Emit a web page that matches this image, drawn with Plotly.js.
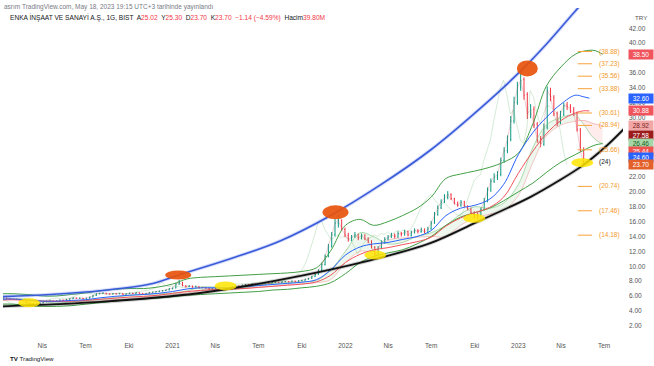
<!DOCTYPE html>
<html><head><meta charset="utf-8">
<script src="https://cdn.plot.ly/plotly-3.0.1.min.js"></script>
<style>html,body{margin:0;padding:0;background:#fff}#chart{width:654px;height:366px}</style>
</head><body><div id="chart"></div>
<script>
// ---- weekly OHLC (Fridays from 2020-01-03) ----
const weekStart = '2020-01-03';
const open = [
// 2020
5.60,5.66,5.71,5.67,5.59, 5.53,5.57,5.49,5.33, 5.08,4.96,4.76,4.91, 5.06,5.21,5.34,5.39, 5.31,5.39,5.44,5.43,5.56, 5.63,5.74,5.69,5.71, 5.64,5.71,5.86,6.06,6.29, 6.34,6.39,6.31,6.26, 6.31,6.29,6.34,6.23, 6.31,6.37,6.33,6.44,6.35, 6.26,6.36,6.47,6.53, 6.59,6.66,6.73,6.81,
// 2021
6.96,7.08,7.62,7.82,7.38, 7.27,7.33,7.19,7.29, 7.12,7.14,7.04,6.96, 7.01,7.09,6.91,6.79,6.87, 7.06,7.21,7.34,7.31, 7.46,7.54,7.49,7.63, 7.57,7.66,7.59,7.73,7.67, 7.81,7.84,7.79,7.91, 7.94,7.89,8.01,7.91, 8.06,8.11,8.26,8.36,8.62, 8.92,9.42,10.25,11.35, 12.65,14.25,15.82,16.15,14.95,
// 2022
14.15,13.65,13.95,14.25, 13.75,14.15,13.65,13.35, 12.55,11.65,12.45,13.25, 13.65,13.95,14.25,13.95,14.45, 14.25,14.65,14.15,14.55, 14.75,14.65,14.95,14.55, 15.05,15.85,16.95,17.85,18.65, 19.25,19.65,19.05,18.45, 18.25,18.65,18.05,17.65,17.15, 16.85,16.85,17.65,18.85, 20.25,21.45,21.95,22.35, 24.25,25.55,27.05,29.55,32.05,
// 2023
34.10,35.10,33.10,30.40, 31.10,29.10,26.90,26.40, 28.70,33.50,32.70,30.60,29.30, 30.40,31.70,31.40,31.10, 30.50,28.30,25.50];
const high = [
5.70,5.78,5.76,5.70,5.62, 5.64,5.60,5.52,5.36, 5.12,5.00,4.98,5.12, 5.26,5.40,5.48,5.42, 5.44,5.50,5.50,5.60,5.68, 5.80,5.78,5.78,5.74, 5.76,5.92,6.12,6.36,6.42, 6.48,6.42,6.34,6.38, 6.36,6.40,6.38,6.36, 6.44,6.42,6.50,6.48,6.38, 6.40,6.54,6.58,6.66, 6.72,6.78,6.88,7.05,
7.12,7.75,8.15,7.90,7.45, 7.45,7.40,7.38,7.34, 7.24,7.20,7.10,7.08, 7.18,7.14,6.98,6.95,7.12, 7.28,7.42,7.40,7.52, 7.62,7.60,7.70,7.68, 7.74,7.72,7.80,7.80,7.88, 7.92,7.90,7.98,8.02, 8.00,8.08,8.06,8.12, 8.18,8.32,8.45,8.70,9.05, 9.60,10.50,11.60,13.00, 14.60,16.40,16.90,16.30,15.20,
14.50,14.20,14.60,14.40, 14.40,14.30,13.90,13.50, 12.70,12.70,13.50,13.90, 14.20,14.50,14.40,14.70,14.60, 14.90,14.80,14.80,15.10, 15.00,15.20,15.10,15.30, 16.10,17.30,18.20,19.00,19.70, 20.10,19.80,19.20,18.70, 18.90,18.80,18.20,17.90,17.40, 17.20,17.90,19.20,20.60, 21.80,22.50,22.80,24.60, 26.00,27.60,30.20,32.80,34.80,
36.20,35.40,33.40,31.80, 31.50,29.40,27.50,29.20, 34.20,34.00,33.00,30.80,30.90, 32.00,32.10,31.80,31.40, 30.80,28.60,26.00];
const low = [
5.55,5.62,5.62,5.55,5.46, 5.48,5.44,5.28,4.98, 4.85,4.62,4.72,4.86, 5.02,5.16,5.30,5.24, 5.26,5.34,5.36,5.40,5.50, 5.58,5.62,5.64,5.58, 5.60,5.66,5.82,6.00,6.24, 6.28,6.24,6.18,6.20, 6.22,6.24,6.16,6.18, 6.26,6.26,6.28,6.30,6.18, 6.20,6.30,6.42,6.48, 6.54,6.60,6.68,6.76,
6.90,7.02,7.50,7.30,7.15, 7.18,7.10,7.14,7.02, 7.05,6.98,6.88,6.90, 6.96,6.84,6.68,6.74,6.82, 7.00,7.15,7.22,7.26, 7.40,7.42,7.44,7.50, 7.52,7.54,7.55,7.62,7.62, 7.74,7.72,7.74,7.85, 7.82,7.84,7.85,7.88, 8.00,8.05,8.20,8.30,8.55, 8.85,9.30,10.10,11.20, 12.50,14.00,15.20,14.80,13.90,
13.30,13.40,13.80,13.50, 13.60,13.50,13.10,12.40, 11.20,11.50,12.30,13.00, 13.50,13.80,13.70,13.80,14.00, 14.10,14.00,14.00,14.40, 14.40,14.50,14.40,14.40, 14.90,15.70,16.80,17.70,18.50, 19.00,18.90,18.30,18.00, 18.00,18.00,17.50,17.00,16.40, 16.30,16.60,17.50,18.60, 20.00,21.20,21.60,22.10, 23.90,25.20,26.80,29.20,31.70,
33.60,32.40,29.80,29.90, 28.60,26.60,26.00,26.20, 28.40,32.20,30.20,28.80,29.10, 30.20,31.00,30.60,30.20, 28.10,25.40,23.70];
const close = [
5.65,5.72,5.68,5.60,5.52, 5.58,5.50,5.35,5.10, 4.98,4.75,4.90,5.05, 5.20,5.35,5.40,5.30, 5.38,5.45,5.42,5.55,5.62, 5.75,5.68,5.72,5.65, 5.70,5.85,6.05,6.30,6.35, 6.40,6.30,6.25,6.32, 6.28,6.35,6.22,6.30, 6.38,6.32,6.45,6.36,6.25, 6.35,6.48,6.52,6.60, 6.65,6.72,6.80,6.95,
7.05,7.60,7.85,7.40,7.25, 7.35,7.20,7.30,7.10, 7.15,7.05,6.95,7.00, 7.10,6.90,6.80,6.85,7.05, 7.20,7.35,7.30,7.45, 7.55,7.50,7.62,7.58, 7.65,7.60,7.72,7.68,7.80, 7.85,7.78,7.90,7.95, 7.88,8.00,7.92,8.05, 8.10,8.25,8.35,8.60,8.90, 9.40,10.20,11.30,12.60, 14.20,15.80,16.20,15.00,14.20,
13.60,13.90,14.20,13.80, 14.10,13.70,13.40,12.60, 11.60,12.40,13.20,13.60, 13.90,14.20,14.00,14.40,14.30, 14.60,14.20,14.50,14.80, 14.70,14.90,14.60,15.00, 15.80,16.90,17.80,18.60,19.20, 19.60,19.10,18.50,18.20, 18.60,18.10,17.70,17.20,16.90, 16.80,17.60,18.80,20.20, 21.40,22.00,22.30,24.20, 25.50,27.00,29.50,32.00,34.00,
35.00,33.00,30.50,31.00, 29.00,27.00,26.50,28.60, 33.60,32.80,30.50,29.20,30.50, 31.60,31.50,31.00,30.60, 28.40,25.60,23.70];

// ---- monthly indicator lines (month starts 2020-01 .. 2023-05, then extensions) ----
const upperGreen = [6.3,6.3,6.2,6.0,6.0,6.2,6.4,6.7,6.9,7.0,7.0,7.2, 7.6,8.3,8.5,8.6,8.7,8.8,8.9,9.0,9.1,9.3,9.8,12.1, 15.5,16.3,15.5,16.0,16.8,17.8,19.3,21.8,22.4,22.8,23.3,24.0, 25.2,29.2,34.2,36.8,38.5, 39.0,39.0,38.5];
const lowerGreen = [4.9,4.9,4.7,4.6,4.6,4.7,4.9,5.1,5.3,5.5,5.6,5.7, 5.9,6.1,6.2,6.3,6.4,6.5,6.6,6.8,6.9,7.1,7.3,7.8, 9.0,10.5,11.3,11.8,12.2,13.0,14.0,15.5,16.6,17.2,17.8,18.8, 20.0,21.2,22.6,24.0,25.0, 25.8,26.3,26.5];
const envExtraDates = ['2023-05-25','2023-06-12','2023-06-28'];
const blueMA = [5.55,5.6,5.45,5.3,5.3,5.4,5.5,5.75,5.95,6.1,6.2,6.35, 6.6,6.95,7.1,7.1,7.1,7.25,7.4,7.55,7.7,7.85,8.2,9.5, 11.5,12.6,13.0,13.2,13.6,14.0,14.8,16.8,17.8,18.2,19.0,21.0, 25.0,28.0,30.0,31.8,33.0, 32.8,32.6];
const redMA = [5.45,5.5,5.4,5.3,5.25,5.3,5.4,5.55,5.7,5.85,5.95,6.1, 6.35,6.6,6.75,6.85,6.9,7.0,7.15,7.3,7.45,7.6,7.9,8.8, 10.5,11.6,12.2,12.5,12.9,13.3,13.9,15.4,16.5,17.2,17.9,19.3, 22.5,25.5,27.8,29.6,30.6, 30.9,30.88];
const maExtraDates = ['2023-05-18','2023-05-31'];
const spanA = [5.6,5.6,5.6,5.3,5.0,5.2,5.4,5.6,5.8,6.1,6.2,6.3, 6.4,6.7,7.2,7.2,7.0,7.1,7.5,7.7,7.8,7.9,8.1,9.5, 12.0,14.5,14.0,13.0,13.2,14.0,14.5,15.5,17.0,18.0,17.8,18.5, 21.0,26.0,29.0,30.0,30.5];
const spanB = [5.5,5.5,5.5,5.4,5.3,5.2,5.2,5.3,5.5,5.6,5.8,6.1, 6.2,6.4,6.7,6.9,7.0,7.0,7.2,7.3,7.5,7.6,7.8,8.2, 10.5,12.0,12.0,13.5,13.8,13.9,14.0,14.0,15.5,16.5,17.0,17.5, 19.5,24.0,27.5,29.0,29.5];
// cloud tail (future part, bearish colour)
const tailDates = ['2023-05-01','2023-05-20','2023-06-08','2023-06-28'];
const tailA = [30.5, 29.0, 27.3, 26.4];
const tailB = [29.5, 29.6, 29.2, 28.9];

// ---- hand-drawn arcs ----
const blueArcDates = ['2020-01-03','2020-04-18','2020-08-01','2020-11-15','2021-01-13','2021-05-03','2021-08-16','2021-11-30','2022-03-15','2022-06-29','2022-10-12','2023-01-05','2023-03-03','2023-05-01','2023-06-23'];
const blueArcVals  = [5.9,6.2,6.7,7.6,8.8,11.0,13.4,16.8,20.9,25.6,31.2,36.2,40.0,44.3,48.0];
const blackArcDates = ['2020-01-03','2020-08-01','2021-02-28','2021-08-10','2022-02-22','2022-06-29','2022-10-04','2023-01-26','2023-03-30','2023-05-18','2023-07-03','2023-08-14'];
const blackArcVals  = [4.6,5.2,6.4,8.1,10.8,13.1,15.9,19.3,21.6,23.6,26.0,28.6];

// ---- highlight ellipses ----
const peakDates = ['2021-01-13','2021-12-11','2023-01-20'];
const peakVals  = [8.82,17.25,36.6];
const lowDates  = ['2020-03-04','2021-04-23','2022-03-05','2022-09-30','2023-05-16'];
const lowVals   = [5.08,7.35,11.5,16.44,23.93];

// ---- fibonacci labels ----
const fibLevels = [38.88,37.23,35.56,33.88,30.61,28.94,25.66,20.74,17.46,14.18];

// ---- right scale badges ----
const badgeVals   = [38.50,32.60,30.88,28.92,27.58,26.46,25.44,24.60,23.70];
const badgeColors = ['#f0545c','#2962ff','#f0545c','#f2a7a7','#9c1c1c','#a5d6a7','#ef5350','#2962ff','#e4602a'];
const badgeText   = ['#fff','#fff','#fff','#7a1c1c','#fff','#1b5e20','#fff','#fff','#fff'];

// ---- axis ticks (labels hidden behind badges are omitted) ----
const yTicks = [2,4,6,8,10,12,14,16,18,20,22,30,32,34,36,40,42];
const tickDates = ['2020-04-01','2020-07-01','2020-10-01','2021-01-01','2021-04-01','2021-07-01','2021-10-01','2022-01-01','2022-04-01','2022-07-01','2022-10-01','2023-01-01','2023-04-01','2023-07-01'];
const tickText  = ['Nis','Tem','Eki','2021','Nis','Tem','Eki','2022','Nis','Tem','Eki','2023','Nis','Tem'];

// ================= build =================
const t0 = Date.parse(weekStart + 'T00:00:00Z');
const dates = close.map((_, i) => new Date(t0 + i * 7 * 864e5).toISOString().slice(0, 10));
const months = [];
for (let y = 2020; y <= 2023; y++) for (let m = 1; m <= 12; m++) { if (y === 2023 && m > 5) break; months.push(y + '-' + String(m).padStart(2, '0') + '-01'); }
const lagDates = dates.map(d => new Date(Date.parse(d + 'T00:00:00Z') - 36 * 864e5).toISOString().slice(0, 10));

const traces = [];
traces.push({x: months, y: spanB, type: 'scatter', mode: 'lines', line: {color: 'rgba(239,154,154,0.7)', width: 0.8, shape: 'spline'}, hoverinfo: 'skip'});
traces.push({x: months, y: spanA, type: 'scatter', mode: 'lines', fill: 'tonexty', fillcolor: 'rgba(76,175,80,0.10)', line: {color: 'rgba(129,199,132,0.8)', width: 0.8, shape: 'spline'}, hoverinfo: 'skip'});
traces.push({x: tailDates, y: tailA, type: 'scatter', mode: 'lines', line: {color: 'rgba(129,199,132,0.8)', width: 0.8, shape: 'spline'}, hoverinfo: 'skip'});
traces.push({x: tailDates, y: tailB, type: 'scatter', mode: 'lines', fill: 'tonexty', fillcolor: 'rgba(242,54,69,0.10)', line: {color: 'rgba(239,154,154,0.8)', width: 0.8, shape: 'spline'}, hoverinfo: 'skip'});
traces.push({x: lagDates, y: close, type: 'scatter', mode: 'lines', line: {color: 'rgba(67,160,71,0.28)', width: 0.8}, hoverinfo: 'skip'});
const envX = months.concat(envExtraDates);
traces.push({x: envX, y: upperGreen, type: 'scatter', mode: 'lines', line: {color: '#43a047', width: 1, shape: 'spline'}, hoverinfo: 'skip'});
traces.push({x: envX, y: lowerGreen, type: 'scatter', mode: 'lines', line: {color: '#43a047', width: 1, shape: 'spline'}, hoverinfo: 'skip'});
const maX = months.concat(maExtraDates);
traces.push({x: maX, y: redMA, type: 'scatter', mode: 'lines', line: {color: '#f0545c', width: 1, shape: 'spline'}, hoverinfo: 'skip'});
traces.push({x: maX, y: blueMA, type: 'scatter', mode: 'lines', line: {color: '#2962ff', width: 1, shape: 'spline'}, hoverinfo: 'skip'});
traces.push({x: dates, y: close, type: 'scatter', mode: 'lines', line: {color: 'rgba(200,70,90,0.45)', width: 0.6}, hoverinfo: 'skip'});
traces.push({x: dates, open: open, high: high, low: low, close: close, type: 'ohlc', tickwidth: 0.2,
  increasing: {line: {color: '#089981', width: 1}},
  decreasing: {line: {color: '#f23645', width: 1}}, hoverinfo: 'skip'});
traces.push({x: blueArcDates, y: blueArcVals, type: 'scatter', mode: 'lines', line: {color: 'rgba(90,120,235,0.25)', width: 3.6, shape: 'spline'}, hoverinfo: 'skip'});
traces.push({x: blueArcDates, y: blueArcVals, type: 'scatter', mode: 'lines', line: {color: '#3a5bd9', width: 1.6, shape: 'spline'}, hoverinfo: 'skip'});
traces.push({x: blackArcDates, y: blackArcVals, type: 'scatter', mode: 'lines', line: {color: 'rgba(0,0,0,0.18)', width: 3.8, shape: 'spline'}, hoverinfo: 'skip'});
traces.push({x: blackArcDates, y: blackArcVals, type: 'scatter', mode: 'lines', line: {color: '#111', width: 1.8, shape: 'spline'}, hoverinfo: 'skip'});

const shapes = [];
const peakSize = [[26, 9], [26, 14], [21, 16]];
peakDates.forEach((d, i) => shapes.push({type: 'circle', xref: 'x', yref: 'y', xsizemode: 'pixel', ysizemode: 'pixel', xanchor: d, yanchor: peakVals[i],
  x0: -peakSize[i][0] / 2, x1: peakSize[i][0] / 2, y0: -peakSize[i][1] / 2, y1: peakSize[i][1] / 2, fillcolor: 'rgba(232,84,12,0.92)', line: {width: 0}}));
lowDates.forEach((d, i) => shapes.push({type: 'circle', xref: 'x', yref: 'y', xsizemode: 'pixel', ysizemode: 'pixel', xanchor: d, yanchor: lowVals[i],
  x0: -11, x1: 11, y0: -4.5, y1: 4.5, fillcolor: 'rgba(255,229,0,0.85)', line: {width: 0}}));
fibLevels.forEach(v => shapes.push({type: 'line', xref: 'paper', yref: 'y', x0: 0.927, x1: 0.950, y0: v, y1: v, line: {color: '#f7a23b', width: 1}}));

const annotations = [];
fibLevels.forEach(v => annotations.push({xref: 'paper', yref: 'y', x: 0.958, y: v, xanchor: 'left', yanchor: 'middle', showarrow: false,
  text: '(' + v.toFixed(2) + ')', font: {size: 6.5, color: '#f39a2b'}}));
annotations.push({xref: 'paper', yref: 'y', x: 0.958, y: 24, xanchor: 'left', yanchor: 'middle', showarrow: false, text: '(24)', font: {size: 6.5, color: '#222'}});
badgeVals.forEach((v, i) => annotations.push({xref: 'paper', yref: 'y', x: 1, y: v, xanchor: 'left', yanchor: 'middle', xshift: 5, showarrow: false,
  text: v.toFixed(2), font: {size: 6.5, color: badgeText[i]}, bgcolor: badgeColors[i], width: 23, height: 8, borderpad: 0.5}));
annotations.push({xref: 'paper', yref: 'paper', x: -0.002, y: 1.0, yshift: 1, xanchor: 'left', yanchor: 'middle', showarrow: false,
  text: 'asrım TradingView.com, May 18, 2023 19:15 UTC+3 tarihinde yayınlandı', font: {size: 6.5, color: '#787b86'}});
annotations.push({xref: 'paper', yref: 'paper', x: 0.008, y: 1.0, yshift: -9, xanchor: 'left', yanchor: 'middle', showarrow: false,
  text: 'ENKA İNŞAAT VE SANAYİ A.Ş., 1G, BIST  A<span style="color:#f23645">25.02</span>  Y<span style="color:#f23645">25.30</span>  D<span style="color:#f23645">23.70</span>  K<span style="color:#f23645">23.70</span>  <span style="color:#f23645">−1.14 (−4.59%)</span>  Hacim<span style="color:#f23645">39.80M</span>',
  font: {size: 6.6, color: '#131722'}});
annotations.push({xref: 'paper', yref: 'paper', x: 1, y: 1.0, yshift: -9, xshift: 10, xanchor: 'left', yanchor: 'middle', showarrow: false, text: 'TRY', font: {size: 6.2, color: '#555'}});
annotations.push({xref: 'paper', yref: 'paper', x: 0.008, y: 0, yshift: -18, xanchor: 'left', yanchor: 'middle', showarrow: false,
  text: '<b>TV</b> TradingView', font: {size: 6.2, color: '#131722'}});

const layout = {
  width: 654, height: 366, margin: {l: 3, r: 31, t: 8, b: 26},
  paper_bgcolor: '#fff', plot_bgcolor: '#fff', showlegend: false, hovermode: false,
  font: {family: 'Liberation Sans, Arial, sans-serif'},
  xaxis: {type: 'date', range: ['2020-01-09', '2023-08-10'], rangeslider: {visible: false}, showgrid: false, zeroline: false,
    tickvals: tickDates, ticktext: tickText, tickfont: {size: 6.5, color: '#555'}, ticks: '', showline: false},
  yaxis: {side: 'right', range: [0.08, 44.73], tickvals: yTicks, tickformat: '.2f', showgrid: false, zeroline: false,
    tickfont: {size: 6.5, color: '#555'}, ticks: '', showline: false, ticklabelstandoff: 5},
  shapes: shapes, annotations: annotations
};
Plotly.newPlot('chart', traces, layout, {staticPlot: true, displayModeBar: false});
</script></body></html>
